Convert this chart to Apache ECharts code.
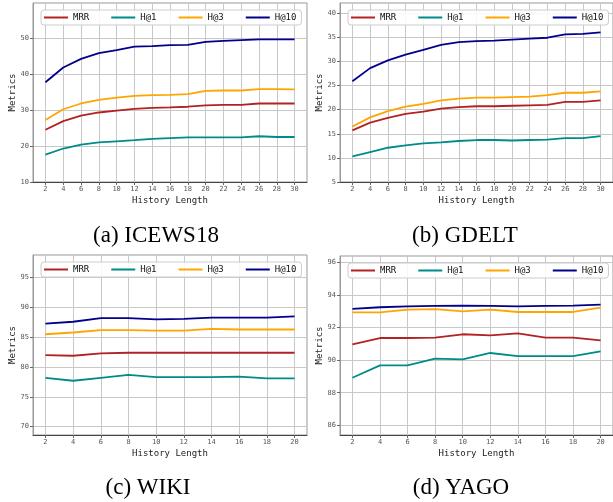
<!DOCTYPE html>
<html>
<head>
<meta charset="utf-8">
<script src="https://cdn.jsdelivr.net/npm/echarts@6/dist/echarts.min.js"></script>
<style>
  html, body { margin: 0; padding: 0; background: #fff; }
  #main { width: 613px; height: 502px; }
</style>
</head>
<body>
<div id="main"></div>
<script>
// history lengths
const histLong = [2, 4, 6, 8, 10, 12, 14, 16, 18, 20, 22, 24, 26, 28, 30];
const histShort = [2, 4, 6, 8, 10, 12, 14, 16, 18, 20];

// ICEWS18
const icewsMRR = [24.5, 26.9, 28.4, 29.3, 29.8, 30.3, 30.6, 30.7, 30.9, 31.3, 31.4, 31.4, 31.8, 31.8, 31.8];
const icewsH1  = [17.6, 19.3, 20.4, 21.0, 21.3, 21.6, 22.0, 22.2, 22.4, 22.4, 22.4, 22.4, 22.7, 22.5, 22.5];
const icewsH3  = [27.2, 30.2, 31.8, 32.8, 33.4, 33.9, 34.1, 34.2, 34.4, 35.3, 35.4, 35.4, 35.8, 35.8, 35.7];
const icewsH10 = [37.7, 41.8, 44.2, 45.8, 46.6, 47.6, 47.7, 48.0, 48.1, 48.9, 49.2, 49.4, 49.6, 49.6, 49.6];

// GDELT
const gdeltMRR = [15.7, 17.3, 18.3, 19.1, 19.6, 20.2, 20.5, 20.7, 20.7, 20.8, 20.9, 21.0, 21.6, 21.6, 21.9];
const gdeltH1  = [10.3, 11.2, 12.1, 12.6, 13.0, 13.2, 13.5, 13.7, 13.7, 13.6, 13.7, 13.8, 14.1, 14.1, 14.5];
const gdeltH3  = [16.5, 18.4, 19.7, 20.6, 21.2, 21.9, 22.3, 22.5, 22.5, 22.6, 22.7, 23.0, 23.5, 23.5, 23.8];
const gdeltH10 = [25.9, 28.6, 30.2, 31.4, 32.4, 33.4, 34.0, 34.2, 34.3, 34.5, 34.7, 34.9, 35.6, 35.7, 36.0];

// WIKI
const wikiMRR = [82.0, 81.9, 82.3, 82.4, 82.4, 82.4, 82.4, 82.4, 82.4, 82.4];
const wikiH1  = [78.2, 77.7, 78.2, 78.7, 78.3, 78.3, 78.3, 78.4, 78.1, 78.1];
const wikiH3  = [85.5, 85.8, 86.2, 86.2, 86.1, 86.1, 86.4, 86.3, 86.3, 86.3];
const wikiH10 = [87.3, 87.6, 88.2, 88.2, 88.0, 88.1, 88.3, 88.3, 88.3, 88.5];

// YAGO
const yagoMRR = [90.97, 91.36, 91.36, 91.38, 91.59, 91.52, 91.65, 91.38, 91.38, 91.22];
const yagoH1  = [88.92, 89.68, 89.68, 90.09, 90.05, 90.44, 90.25, 90.25, 90.25, 90.54];
const yagoH3  = [92.94, 92.94, 93.10, 93.13, 93.00, 93.10, 92.96, 92.96, 92.96, 93.23];
const yagoH10 = [93.15, 93.25, 93.31, 93.33, 93.35, 93.33, 93.31, 93.33, 93.35, 93.41];

// y tick labels
const icewsTicks = [10, 20, 30, 40, 50];
const gdeltTicks = [5, 10, 15, 20, 25, 30, 35, 40];
const wikiTicks = [70, 75, 80, 85, 90, 95];
const yagoTicks = [86, 88, 90, 92, 94, 96];

const metricNames = ['MRR', 'H@1', 'H@3', 'H@10'];
const captions = ['(a) ICEWS18', '(b) GDELT', '(c) WIKI', '(d) YAGO'];

document.addEventListener("DOMContentLoaded", () => {
    const colors = ['#b22222', '#008b8b', '#ffa500', '#00008b'];
    const mono = 'DejaVu Sans Mono';

    // panel layout
    const panels = [
        { left: 33, top: 3, height: 179, xs: histLong, xMin: 0.6, xMax: 31.4, yMin: 10, yMax: 59.7, ticks: icewsTicks, data: [icewsMRR, icewsH1, icewsH3, icewsH10], cx: 156, cy: 236 },
        { left: 340, top: 3, height: 179, xs: histLong, xMin: 0.6, xMax: 31.4, yMin: 5, yMax: 42.1, ticks: gdeltTicks, data: [gdeltMRR, gdeltH1, gdeltH3, gdeltH10], cx: 465, cy: 236 },
        { left: 33, top: 255, height: 180, xs: histShort, xMin: 1.1, xMax: 20.9, yMin: 68.6, yMax: 98.8, ticks: wikiTicks, data: [wikiMRR, wikiH1, wikiH3, wikiH10], cx: 148, cy: 488 },
        { left: 340, top: 256, height: 179, xs: histShort, xMin: 1.1, xMax: 20.9, yMin: 85.4, yMax: 96.4, ticks: yagoTicks, data: [yagoMRR, yagoH1, yagoH3, yagoH10], cx: 461, cy: 488 }
    ];

    let grid = [], xAxis = [], yAxis = [], series = [], legend = [], graphic = [];

    panels.forEach((p, i) => {
        grid.push({
            left: p.left, top: p.top, width: 274, height: p.height,
            show: true, borderColor: '#999', borderWidth: 1, backgroundColor: '#fff'
        });
        xAxis.push({
            type: 'value', gridIndex: i, min: p.xMin, max: p.xMax,
            name: 'History Length', nameLocation: 'middle', nameGap: 14,
            nameTextStyle: { fontFamily: mono, fontSize: 9, color: '#222' },
            axisLine: { show: true, onZero: false, lineStyle: { color: '#444', width: 1 } },
            axisTick: { show: true, length: 3, customValues: p.xs, lineStyle: { color: '#666' } },
            axisLabel: { customValues: p.xs, fontFamily: mono, fontSize: 7, color: '#555', margin: 4 },
            splitLine: { show: true, lineStyle: { color: '#c8c8c8', width: 1 } }
        });
        yAxis.push({
            type: 'value', gridIndex: i, min: p.yMin, max: p.yMax,
            name: 'Metrics', nameLocation: 'middle', nameGap: 16,
            nameTextStyle: { fontFamily: mono, fontSize: 9, color: '#222' },
            axisLine: { show: true, onZero: false, lineStyle: { color: '#999', width: 1 } },
            axisTick: { show: true, length: 3, customValues: p.ticks, lineStyle: { color: '#666' } },
            axisLabel: { customValues: p.ticks, fontFamily: mono, fontSize: 7, color: '#555', margin: 4 },
            splitLine: { show: true, lineStyle: { color: '#c8c8c8', width: 1 } }
        });
        p.data.forEach((vals, k) => {
            series.push({
                name: metricNames[k], type: 'line', xAxisIndex: i, yAxisIndex: i,
                data: p.xs.map((x, j) => [x, vals[j]]),
                showSymbol: false, symbol: 'none',
                lineStyle: { color: colors[k], width: 1.8 },
                itemStyle: { color: colors[k] },
                z: 3
            });
        });
        legend.push({
            data: metricNames, left: p.left + 8, top: p.top + 7,
            icon: 'rect', itemWidth: 24, itemHeight: 2, itemGap: 22,
            padding: [3, 5, 3, 3],
            backgroundColor: 'rgba(255,255,255,0.85)', borderColor: '#ccc', borderWidth: 1, borderRadius: 3,
            textStyle: { fontFamily: mono, fontSize: 9, color: '#111' }
        });
        // caption under each panel
        graphic.push({
            type: 'text', x: p.cx, y: p.cy,
            style: {
                text: captions[i], x: 0, y: 0,
                font: '23px "Liberation Serif"', fill: '#000',
                align: 'center', verticalAlign: 'middle'
            }
        });
    });

    echarts.init(document.querySelector("#main")).setOption({
        animation: false,
        color: colors,
        grid: grid,
        xAxis: xAxis,
        yAxis: yAxis,
        legend: legend,
        series: series,
        graphic: graphic
    });
});
</script>
</body>
</html>
